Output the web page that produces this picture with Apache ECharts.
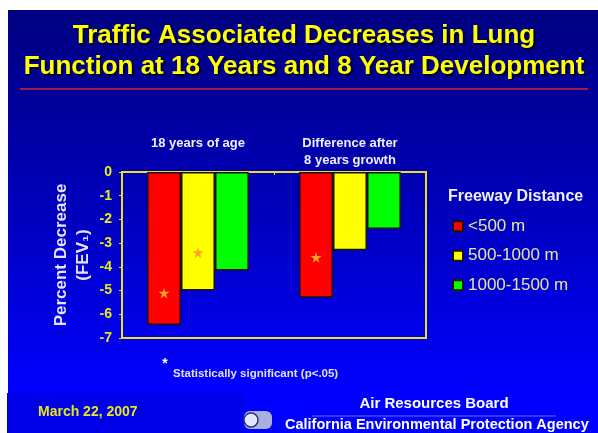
<!DOCTYPE html>
<html><head><meta charset="utf-8">
<script src="https://cdn.jsdelivr.net/npm/echarts@6/dist/echarts.min.js"></script>
<style>html,body{margin:0;padding:0;background:#fff}#c{width:598px;height:433px}</style>
</head><body><div id="c"></div>
<script>
// ---- data ----
const categories = ['18 years of age', 'Difference after\n8 years growth'];
const seriesNames = ['<500 m', '500-1000 m', '1000-1500 m'];
const near = [-6.45, -5.3];      // <500 m
const mid = [-5.0, -3.3];        // 500-1000 m
const far = [-4.15, -2.4];       // 1000-1500 m
const starNear = [-5.1, -3.6];   // significance markers on <500 m bars
const starMid = [-3.4, null];    // significance markers on 500-1000 m bars
const yMin = -7, yMax = 0, yStep = 1;

const FONT = 'Liberation Sans';
const starPath = 'path://M50,0 L61,35 L98,35 L68,57 L79,91 L50,70 L21,91 L32,57 L2,35 L39,35 Z';

function marks(vals) {
  const out = [];
  vals.forEach((v, i) => { if (v !== null) out.push({ coord: [categories[i], v] }); });
  return {
    symbol: starPath, symbolSize: 11,
    itemStyle: { color: '#ffa020', borderWidth: 0 },
    label: { show: false },
    data: out
  };
}

const chart = echarts.init(document.getElementById('c'), null, { renderer: 'canvas' });
const barStyle = c => ({ color: c, borderColor: '#151515', borderWidth: 1.5 });

chart.setOption({
  animation: false,
  backgroundColor: '#ffffff',
  textStyle: { fontFamily: FONT },
  grid: { left: 122, top: 172, width: 304, height: 166, show: true, borderColor: '#e8e020', borderWidth: 2, backgroundColor: 'transparent', z: 1 },
  legend: {
    orient: 'vertical', left: 447, top: 212, itemWidth: 10, itemHeight: 10, itemGap: 11,
    icon: 'rect',
    textStyle: { color: '#e6e6a0', fontSize: 17, fontFamily: FONT, lineHeight: 18.5 },
    data: seriesNames
  },
  xAxis: {
    type: 'category', position: 'top', data: categories,
    axisLine: { show: false },
    axisTick: { show: true, inside: true, length: 3, lineStyle: { color: '#e8e020' } },
    axisLabel: { color: '#f0f0ff', fontWeight: 'bold', fontSize: 13, fontFamily: FONT, verticalAlign: 'top', margin: 37, lineHeight: 17 }
  },
  yAxis: {
    type: 'value', min: yMin, max: yMax, interval: yStep,
    axisLine: { show: false },
    axisTick: { show: true, length: 3, lineStyle: { color: '#e8e020' } },
    splitLine: { show: false },
    axisLabel: { color: '#e8e820', fontWeight: 'bold', fontSize: 14, fontFamily: FONT, margin: 10 },
    name: 'Percent Decrease\n(FEV\u2081)', nameLocation: 'middle', nameRotate: 90, nameGap: 28, nameMoveOverlap: false,
    nameTextStyle: { color: '#e4e4ff', fontWeight: 'bold', fontSize: 17, fontFamily: FONT, lineHeight: 22 }
  },
  series: [
    { name: seriesNames[0], type: 'bar', data: near, itemStyle: barStyle('#ff0000'), barGap: '0%', barCategoryGap: '33%', markPoint: marks(starNear) },
    { name: seriesNames[1], type: 'bar', data: mid, itemStyle: barStyle('#ffff00'), barGap: '0%', barCategoryGap: '33%', markPoint: marks(starMid) },
    { name: seriesNames[2], type: 'bar', data: far, itemStyle: barStyle('#00ff00'), barGap: '0%', barCategoryGap: '33%' }
  ],
  graphic: [
    { type: 'rect', z: -10, silent: true, shape: { x: 8, y: 10, width: 590, height: 423 },
      style: { fill: new echarts.graphic.LinearGradient(0, 0, 0, 1, [
        { offset: 0, color: '#000080' }, { offset: 0.5, color: '#0000c0' }, { offset: 0.905, color: '#0000ff' }, { offset: 1, color: '#0000ff' }]) } },
    { type: 'rect', z: -9, silent: true, shape: { x: 7, y: 393, width: 236, height: 40 }, style: { fill: '#0000e6' } },
    { type: 'line', z: -8, silent: true, shape: { x1: 20, y1: 89, x2: 588, y2: 89 }, style: { stroke: '#a01850', lineWidth: 2 } },
    { type: 'text', x: 304, y: 36, style: { text: 'Traffic Associated Decreases in Lung', fill: '#ffff00', font: 'bold 26px ' + FONT, align: 'center', verticalAlign: 'middle', textShadowColor: '#000020', textShadowOffsetX: 2, textShadowOffsetY: 2, textShadowBlur: 2 } },
    { type: 'text', x: 304, y: 67, style: { text: 'Function at 18 Years and 8 Year Development', fill: '#ffff00', font: 'bold 26px ' + FONT, align: 'center', verticalAlign: 'middle', textShadowColor: '#000020', textShadowOffsetX: 2, textShadowOffsetY: 2, textShadowBlur: 2 } },
    { type: 'text', x: 448, y: 197, style: { text: 'Freeway Distance', fill: '#f0f0ff', font: 'bold 16px ' + FONT, align: 'left', verticalAlign: 'middle' } },
    { type: 'text', x: 165, y: 364, style: { text: '*', fill: '#ffffff', font: 'bold 14px ' + FONT, align: 'center', verticalAlign: 'middle' } },
    { type: 'text', x: 173, y: 374, style: { text: 'Statistically significant (p<.05)', fill: '#e0e0ff', font: 'bold 11.5px ' + FONT, align: 'left', verticalAlign: 'middle' } },
    { type: 'text', x: 38, y: 412, style: { text: 'March 22, 2007', fill: '#e6e620', font: 'bold 14px ' + FONT, align: 'left', verticalAlign: 'middle' } },
    { type: 'text', x: 434, y: 404, style: { text: 'Air Resources Board', fill: '#ffffff', font: 'bold 15px ' + FONT, align: 'center', verticalAlign: 'middle' } },
    { type: 'line', silent: true, shape: { x1: 312, y1: 416, x2: 556, y2: 416 }, style: { stroke: '#6a6aff', lineWidth: 1 } },
    { type: 'text', x: 285, y: 425, style: { text: 'California Environmental Protection Agency', fill: '#ffffff', font: 'bold 14.5px ' + FONT, align: 'left', verticalAlign: 'middle' } },
    { type: 'rect', shape: { x: 244, y: 411, width: 28, height: 18, r: 6 }, style: { fill: '#a8b0e0' } },
    { type: 'circle', shape: { cx: 251, cy: 420, r: 7 }, style: { fill: '#e0e6ff', stroke: '#303080', lineWidth: 1.5 } }
  ]
});
</script></body></html>
